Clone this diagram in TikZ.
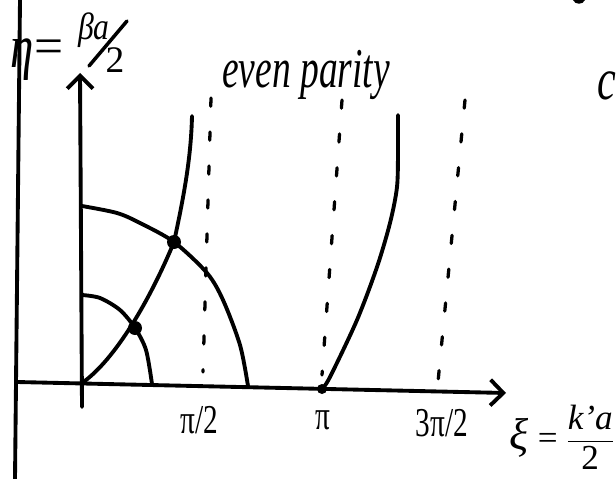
\documentclass[tikz,border=0pt]{standalone}
\usepackage{amsmath}
\usepackage{fontspec}
\setmainfont{Liberation Serif}
\usetikzlibrary{arrows.meta}

\begin{document}
\begin{tikzpicture}[x=0.03cm, y=-0.03cm,
    every node/.style={inner sep=0pt},
    ink/.style={line width=3.3pt, line cap=round, line join=round},
    guide/.style={line width=2.8pt, line cap=round, dash pattern=on 7pt off 22pt},
    axis/.style={ink, -{Straight Barb[length=11pt, width=22pt]}},
    dot/.style={circle, fill, minimum size=0.42cm},
    hand/.style={font=\fontsize{32}{34}\selectfont\itshape, yscale=1.5},
    ticklbl/.style={font=\fontsize{25}{27}\selectfont, yscale=1.4}]
        \useasboundingbox (0,0) rectangle (616,479);

        % margin rule
        \coordinate (mtop) at (20,0);
        \coordinate (mbot) at (15,479);
        \draw[ink] (mtop) -- (mbot);

        % axes
        \coordinate (O) at (82,383);
        \coordinate (ybot) at (82,407);
        \coordinate (ytip) at (80,73);
        \coordinate (xbot) at (17,382);
        \coordinate (xtip) at (506,393);
        \draw[axis] (ybot) -- (ytip);
        \draw[axis] (xbot) -- (xtip);

        % asymptotes
        \draw[guide] (211,98) -- (203,372);
        \draw[guide] (342,100) -- (322,375);
        \draw[guide] (465,100) -- (438,382);

        % circles
        \draw[ink] plot[smooth] coordinates {(82,295) (100,298) (120,310) (135,328) (146,350) (152,384)};
        \draw[ink] plot[smooth] coordinates {(82,206) (117,213) (140,223) (174,242) (207,273) (223,300) (240,345) (248,386)};

        % branches
        \draw[ink] (O) .. controls (115,360) and (150,300) .. (174,242)
          .. controls (183,200) and (191,160) .. (192,116);
        \draw[ink] plot[smooth] coordinates {(322,389) (330,377) (357,320) (377,267) (390,223) (397,187) (398,150) (398,115)};

        % roots
        \node[dot] (r1) at (135,328) {};
        \node[dot] (r2) at (174,242) {};
        \node[dot, minimum size=0.3cm] (r0) at (322,389) {};

        % eta = beta a / 2
        \node[font=\fontsize{40}{42}\selectfont\itshape, yscale=1.3] (etasym) at (22,60) {η};
        \node[font=\fontsize{44}{46}\selectfont] (etaeq) at (49,52) {=};
        \node[font=\fontsize{27}{29}\selectfont\itshape, yscale=1.2] (etanum) at (94,30) {βa};
        \node[font=\fontsize{32}{34}\selectfont] (etaden) at (115,60) {2};
        \coordinate (slashlo) at (89,66);
        \coordinate (slashhi) at (127,21);
        \draw[ink, line width=3pt] (slashlo) -- (slashhi);

        % labels
        \node[hand, anchor=base west] (parity) at (222,88) {even parity};
        \node[ticklbl] (t1) at (199,420) {π/2};
        \node[ticklbl] (t2) at (323,420) {π};
        \node[ticklbl] (t3) at (442,423) {3π/2};
        \node[font=\fontsize{30}{32}\selectfont] (xilbl) at (562,437)
          {{\fontsize{38}{40}\selectfont\itshape ξ}\ =\ $\dfrac{\text{\itshape k'a}}{\text{2}}$};
        \node[font=\fontsize{36}{38}\selectfont\itshape, yscale=1.4] (cword) at (607,86) {c};

        % cut-off stroke at top
        \fill (573,0) .. controls (575,5) and (583,5) .. (585,0) -- cycle;
\end{tikzpicture}
\end{document}
